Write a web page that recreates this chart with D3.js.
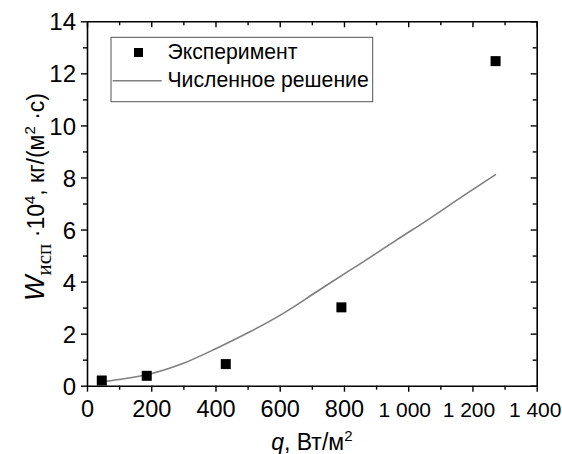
<!DOCTYPE html>
<html>
<head>
<meta charset="utf-8">
<script src="https://cdn.jsdelivr.net/npm/d3@7"></script>
<style>
body { margin: 0; background: #fff; }
svg text { font-family: "Liberation Sans", Arial, sans-serif; fill: #000; }
</style>
</head>
<body>
<svg id="chart" width="562" height="454"></svg>
<script>
// experiment points
var expQ = [46, 186, 432, 792, 1272];
var expW = [0.2, 0.38, 0.83, 3.01, 12.47];

// numerical solution
var numQ = [35, 100, 196, 300, 404, 507, 611, 715, 819, 860, 964, 1068, 1171, 1273];
var numW = [0.13, 0.24, 0.45, 0.86, 1.44, 2.07, 2.78, 3.61, 4.44, 4.76, 5.6, 6.43, 7.29, 8.12];

var xTicks = [0, 200, 400, 600, 800, 1000, 1200, 1400];
var xMinor = [100, 300, 500, 700, 900, 1100, 1300];
var yTicks = [0, 2, 4, 6, 8, 10, 12, 14];
var yMinor = [1, 3, 5, 7, 9, 11, 13];

var legendLabels = ["Эксперимент", "Численное решение"];

var svg = d3.select("#chart");
var pLeft = 87, pRight = 536.7, pTop = 21.3, pBottom = 385.7;

var x_scale = d3.scaleLinear().domain([0, 1400]).range([pLeft, pRight]);
var y_scale = d3.scaleLinear().domain([0, 14]).range([pBottom, pTop]);

function fmtX(d) {
  return d >= 1000 ? d3.format(",")(d).replace(",", " ") : d;
}

// bottom axis
var gx = svg.append("g").attr("transform", "translate(0," + pBottom + ")")
  .call(d3.axisBottom(x_scale).tickValues(xTicks).tickSize(6).tickSizeOuter(0).tickFormat(fmtX));
gx.selectAll("text")
  .attr("dy", null).attr("y", 31)
  .attr("dx", function(d) { return d === 1400 ? -2 : (d >= 1000 ? -4 : 0); })
  .style("font-size", function(d) { return d >= 1000 ? "21px" : "23.5px"; });
svg.append("g").attr("transform", "translate(0," + pBottom + ")")
  .call(d3.axisBottom(x_scale).tickValues(xMinor).tickSize(4).tickFormat(""))
  .select(".domain").remove();

// top axis, ticks inside
svg.append("g").attr("transform", "translate(0," + pTop + ")")
  .call(d3.axisTop(x_scale).tickValues(xTicks).tickSize(-6).tickSizeOuter(0).tickFormat(""));
svg.append("g").attr("transform", "translate(0," + pTop + ")")
  .call(d3.axisTop(x_scale).tickValues(xMinor).tickSize(-4).tickFormat(""))
  .select(".domain").remove();

// left axis
var gy = svg.append("g").attr("transform", "translate(" + pLeft + ",0)")
  .call(d3.axisLeft(y_scale).tickValues(yTicks).tickSize(6).tickSizeOuter(0));
gy.selectAll("text")
  .attr("x", -11).attr("dy", "0.36em")
  .style("font-size", "24px");
svg.append("g").attr("transform", "translate(" + pLeft + ",0)")
  .call(d3.axisLeft(y_scale).tickValues(yMinor).tickSize(4).tickFormat(""))
  .select(".domain").remove();

// right axis, ticks inside
svg.append("g").attr("transform", "translate(" + pRight + ",0)")
  .call(d3.axisRight(y_scale).tickValues(yTicks).tickSize(-6).tickSizeOuter(0).tickFormat(""));
svg.append("g").attr("transform", "translate(" + pRight + ",0)")
  .call(d3.axisRight(y_scale).tickValues(yMinor).tickSize(-4).tickFormat(""))
  .select(".domain").remove();

svg.selectAll(".domain").attr("stroke", "#000").attr("stroke-width", 1.6);
svg.selectAll(".tick line").attr("stroke", "#000").attr("stroke-width", 1.4);

// numerical line
var line = d3.line()
  .x(function(d) { return x_scale(d[0]); })
  .y(function(d) { return y_scale(d[1]); })
  .curve(d3.curveMonotoneX);

svg.append("path")
  .datum(d3.zip(numQ, numW))
  .attr("d", line)
  .attr("fill", "none")
  .attr("stroke", "#7f7f7f")
  .attr("stroke-width", 1.6);

// experiment squares
svg.selectAll(".pt")
  .data(d3.zip(expQ, expW))
  .enter()
  .append("rect")
  .attr("class", "pt")
  .attr("x", function(d) { return x_scale(d[0]) - 5; })
  .attr("y", function(d) { return y_scale(d[1]) - 5; })
  .attr("width", 10)
  .attr("height", 10)
  .attr("fill", "#000");

// legend
var lg = svg.append("g");
lg.append("rect")
  .attr("x", 111).attr("y", 37.3).attr("width", 261.7).attr("height", 64.4)
  .attr("fill", "#fff").attr("stroke", "#555").attr("stroke-width", 1);
lg.append("rect")
  .attr("x", 134).attr("y", 48).attr("width", 9).attr("height", 9).attr("fill", "#000");
lg.append("line")
  .attr("x1", 112.7).attr("x2", 161.7).attr("y1", 80.7).attr("y2", 80.7)
  .attr("stroke", "#7f7f7f").attr("stroke-width", 1.6);
lg.selectAll(".lt")
  .data(legendLabels)
  .enter()
  .append("text")
  .attr("class", "lt")
  .attr("x", 167.5)
  .attr("y", function(d, i) { return i === 0 ? 59 : 87; })
  .style("font-size", "21.2px")
  .text(function(d) { return d; });

// x title
var xt = svg.append("text")
  .attr("x", (pLeft + pRight) / 2).attr("y", 450)
  .attr("text-anchor", "middle")
  .style("font-size", "23px");
xt.append("tspan").style("font-style", "italic").text("q");
xt.append("tspan").text(", Вт/м");
xt.append("tspan").attr("dy", -9).style("font-size", "15px").text("2");

// y title
var yt = svg.append("text")
  .attr("transform", "translate(44,197) rotate(-90)")
  .attr("text-anchor", "middle")
  .style("font-size", "23px");
yt.append("tspan").style("font-style", "italic").style("font-size", "27px").text("W");
yt.append("tspan").attr("dy", 7).style("font-family", "'Liberation Serif', serif").style("font-size", "21px").text("исп");
yt.append("tspan").attr("dy", -7).text(" ·10");
yt.append("tspan").attr("dy", -9).style("font-size", "15px").text("4");
yt.append("tspan").attr("dy", 9).text(", кг/(м");
yt.append("tspan").attr("dy", -9).style("font-size", "15px").text("2");
yt.append("tspan").attr("dy", 9).text(" ·с)");
</script>
</body>
</html>
